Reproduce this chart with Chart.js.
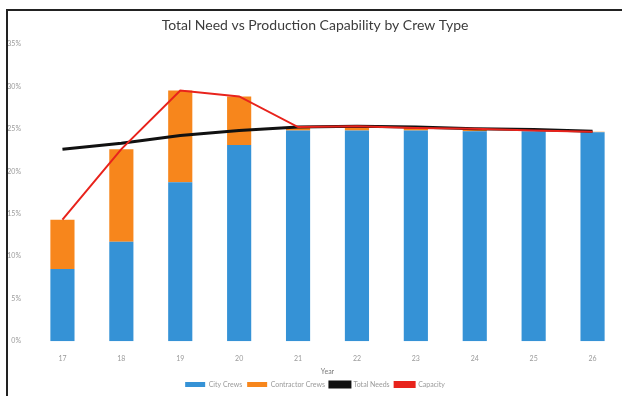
<!DOCTYPE html>
<html>
<head>
<meta charset="utf-8">
<script src="https://cdn.jsdelivr.net/npm/chart.js@4"></script>
<style>
  body { margin: 0; background: #fff; }
  #frame {
    position: absolute; left: 6px; top: 9px; width: 616px; height: 387px;
    border-top: 2px solid #222; border-left: 2px solid #222;
  }
  #wrap { position: absolute; left: 0; top: 0; width: 616px; height: 387px; }
</style>
</head>
<body>
<div id="frame"><div id="wrap"><canvas id="grafico"></canvas></div></div>
<script>
const years = ['17', '18', '19', '20', '21', '22', '23', '24', '25', '26']
const cityCrews = [8.5, 11.7, 18.7, 23.1, 24.8, 24.8, 24.8, 24.7, 24.7, 24.6]
const contractorCrews = [5.8, 10.9, 10.8, 5.7, 0.4, 0.5, 0.3, 0.3, 0.1, 0.05]
const totalNeeds = [22.6, 23.3, 24.2, 24.8, 25.2, 25.3, 25.2, 25.0, 24.9, 24.7]
const capacity = [14.3, 22.6, 29.5, 28.8, 25.2, 25.3, 25.1, 25.0, 24.8, 24.65]
const yTicks = [0, 5, 10, 15, 20, 25, 30, 35]

const grey = '#9a9a9a'

// lower order = drawn last (on top) and stacked first (at bottom)
const datasets = [
  {
    label: 'City Crews', data: cityCrews,
    backgroundColor: '#3592d6', stack: 'crews', order: 2
  },
  {
    label: 'Contractor Crews', data: contractorCrews,
    backgroundColor: '#f7861c', stack: 'crews', order: 3
  },
  {
    type: 'line', label: 'Total Needs', data: totalNeeds,
    borderColor: '#111', backgroundColor: '#111', borderWidth: 3,
    pointRadius: 0, stack: 'needs', order: 1
  },
  {
    type: 'line', label: 'Capacity', data: capacity,
    borderColor: '#e8231c', backgroundColor: '#e8231c', borderWidth: 2,
    pointRadius: 0, stack: 'cap', order: 0
  }
]

const chart = document.getElementById('grafico')
const myChart = new Chart(chart, {
  type: 'bar',
  data: { labels: years, datasets },
  options: {
    responsive: true,
    maintainAspectRatio: false,
    animation: false,
    layout: { padding: { top: 2, right: 2, bottom: 0, left: 0 } },
    datasets: { bar: { categoryPercentage: 1, barPercentage: 0.41 } },
    plugins: {
      title: {
        display: true,
        text: 'Total Need vs Production Capability by Crew Type',
        color: '#3c3c3c',
        font: { family: 'Lato', size: 14, weight: 'normal' },
        padding: { top: 4, bottom: 10 }
      },
      legend: {
        position: 'bottom',
        labels: {
          color: grey, boxWidth: 20, boxHeight: 5,
          font: { family: 'Lato', size: 7 }, padding: 5,
          sort: (a, b) => a.datasetIndex - b.datasetIndex
        }
      },
      tooltip: { enabled: false }
    },
    scales: {
      x: {
        stacked: true,
        grid: { display: false },
        border: { display: false },
        ticks: { color: grey, font: { family: 'Lato', size: 7 }, padding: 5 },
        title: { display: true, text: 'Year', color: '#7a7a7a', font: { family: 'Lato', size: 7 }, padding: 0 }
      },
      y: {
        stacked: true,
        min: 0, max: 35,
        afterFit: (axis) => { axis.width = 25 },
        afterBuildTicks: (axis) => { axis.ticks = yTicks.map(v => ({ value: v })) },
        grid: { display: false },
        border: { display: false },
        ticks: {
          color: grey, font: { family: 'Lato', size: 7 }, padding: 4,
          callback: (v) => v + '%'
        }
      }
    }
  }
})
</script>
</body>
</html>
